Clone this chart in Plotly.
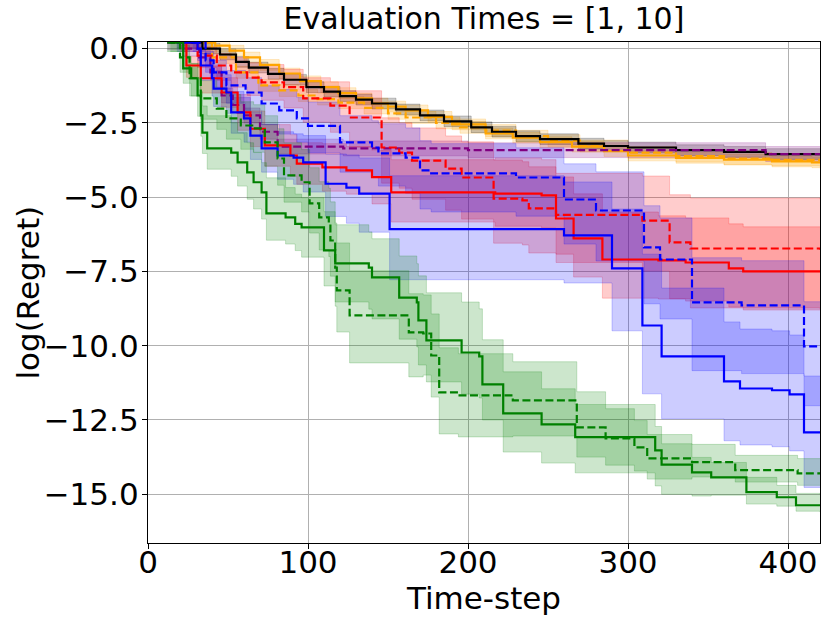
import plotly.graph_objects as go

# ---------------- data (step breakpoints) ----------------
K_X = [18, 34, 45, 55, 63, 75, 85, 99, 110, 120, 130, 140, 155, 170, 185, 202, 215, 230, 245, 269, 285, 300, 330, 360, 386, 420]
K_Y = [0.2, 0.0, -0.2, -0.45, -0.64, -0.85, -1.05, -1.3, -1.45, -1.6, -1.72, -1.85, -2.05, -2.25, -2.45, -2.65, -2.8, -2.95, -3.05, -3.2, -3.28, -3.33, -3.42, -3.48, -3.55, -3.55]
K_BAND = 0.18

OS_X = [30, 42, 51, 60, 70, 82, 95, 108, 119, 130, 140, 150, 161, 175, 190, 211, 228, 245, 265, 285, 300, 330, 360, 390, 415, 420]
OS_Y = [0.2, 0.1, -0.07, -0.3, -0.55, -0.84, -1.1, -1.3, -1.5, -1.68, -1.85, -1.95, -2.08, -2.3, -2.55, -2.86, -3.0, -3.15, -3.3, -3.45, -3.6, -3.68, -3.74, -3.8, -3.83, -3.85]
OS_BAND = 0.18

OD_X = [25, 40, 55, 69, 82, 94, 106, 119, 135, 150, 161, 180, 195, 211, 230, 250, 270, 300, 330, 360, 390, 420]
OD_Y = [0.2, -0.3, -0.8, -1.24, -1.41, -1.58, -1.7, -1.82, -2.0, -2.18, -2.32, -2.5, -2.65, -2.76, -2.95, -3.1, -3.28, -3.5, -3.62, -3.7, -3.75, -3.78]
OD_BAND = 0.2

PD_X = [12, 22, 32, 39, 46, 53, 60, 70, 81, 122, 200, 386, 420]
PD_Y = [0.2, 0.0, -0.3, -0.8, -1.58, -1.9, -2.25, -2.8, -3.3, -3.36, -3.42, -3.55, -3.55]
PD_BAND = 0.25

RS_X = [20, 24, 33, 46, 56, 64, 73, 89, 93, 109, 124, 140, 152, 217, 246, 255, 266, 284, 319, 336, 363, 372, 420]
RS_Y = [0.2, -0.57, -1.0, -1.48, -2.15, -2.7, -3.26, -3.6, -3.87, -4.0, -4.1, -4.33, -4.84, -4.88, -4.94, -5.72, -6.39, -7.1, -7.13, -7.2, -7.4, -7.5, -7.5]
RS_UP = [0.1, 0.3, 0.4, 0.5, 0.6, 0.6, 0.7, 0.7, 0.7, 0.8, 0.8, 0.9, 1.1, 1.2, 1.2, 1.4, 1.5, 1.6, 1.5, 1.5, 1.5, 1.5, 1.5]
RS_DN = [0.3, 0.4, 0.5, 0.5, 0.6, 0.6, 0.7, 0.7, 0.7, 0.8, 0.8, 0.9, 1.0, 1.1, 1.1, 1.2, 1.3, 1.3, 1.3, 1.3, 1.3, 1.3, 1.3]

RD_X = [22, 31, 43, 52, 62, 71, 85, 97, 114, 126, 146, 157, 165, 186, 196, 216, 234, 238, 255, 309, 326, 339, 420]
RD_Y = [0.2, -0.24, -0.57, -0.8, -0.98, -1.14, -1.3, -1.68, -1.92, -2.32, -3.33, -3.5, -3.77, -4.04, -4.34, -5.05, -5.11, -5.38, -5.6, -5.79, -6.52, -6.73, -6.77]
RD_UP = [0.1, 0.3, 0.4, 0.5, 0.5, 0.6, 0.6, 0.7, 0.8, 0.9, 1.0, 1.0, 1.1, 1.1, 1.2, 1.3, 1.3, 1.4, 1.4, 1.5, 1.6, 1.7, 1.7]
RD_DN = [0.3, 0.4, 0.5, 0.5, 0.6, 0.6, 0.7, 0.8, 0.9, 1.0, 1.2, 1.2, 1.3, 1.4, 1.4, 1.5, 1.5, 1.5, 1.6, 1.7, 1.9, 2.0, 2.0]

BS_X = [18, 31, 33, 40, 41, 49, 52, 60, 64, 71, 81, 91, 97, 111, 124, 132, 151, 260, 290, 309, 321, 360, 370, 390, 401, 410, 420]
BS_Y = [0.2, 0.0, -0.57, -1.0, -1.35, -1.48, -2.15, -2.35, -2.93, -3.36, -3.6, -3.67, -3.83, -4.55, -4.68, -4.88, -6.08, -6.29, -7.4, -9.32, -10.36, -11.2, -11.44, -11.5, -11.64, -12.92, -12.92]
BS_UP = [0.1, 0.3, 0.4, 0.5, 0.6, 0.6, 0.7, 0.7, 0.8, 0.8, 0.8, 0.8, 0.9, 1.0, 1.1, 1.2, 1.8, 1.8, 2.0, 2.4, 2.3, 2.0, 2.0, 2.0, 2.0, 1.9, 1.9]
BS_DN = [0.3, 0.4, 0.5, 0.6, 0.6, 0.7, 0.7, 0.8, 0.8, 0.8, 0.8, 0.9, 1.0, 1.1, 1.2, 1.3, 1.7, 1.6, 2.1, 2.3, 2.1, 2.0, 1.9, 1.9, 1.9, 1.85, 1.85]

BD_X = [28, 36, 41, 49, 61, 71, 82, 93, 100, 120, 140, 144, 161, 170, 177, 230, 260, 280, 310, 320, 340, 371, 410, 420]
BD_Y = [0.2, -0.4, -0.8, -1.24, -1.48, -1.85, -2.08, -2.35, -2.6, -3.16, -3.33, -3.53, -3.67, -4.1, -4.2, -4.34, -5.08, -5.45, -6.69, -7.1, -8.54, -8.64, -10.02, -10.02]
BD_UP = [0.1, 0.3, 0.4, 0.5, 0.5, 0.6, 0.7, 0.7, 0.8, 0.9, 0.9, 1.0, 1.0, 1.0, 1.0, 1.0, 1.2, 1.3, 1.4, 1.4, 1.5, 1.5, 1.5, 1.5]
BD_DN = [0.3, 0.4, 0.5, 0.6, 0.6, 0.7, 0.8, 0.8, 0.9, 1.0, 1.0, 1.1, 1.2, 1.3, 1.3, 1.3, 1.5, 1.7, 1.9, 2.0, 2.3, 2.3, 2.0, 2.0]

GS_X = [14, 22, 27, 31, 33, 34, 37, 52, 56, 62, 66, 71, 74, 86, 92, 96, 110, 117, 138, 140, 157, 168, 169, 174, 196, 207, 209, 222, 246, 267, 317, 321, 340, 352, 374, 393, 405, 420]
GS_Y = [0.2, -0.67, -1.0, -1.58, -2.25, -2.83, -3.36, -3.5, -3.83, -4.17, -4.5, -4.84, -5.55, -5.68, -5.9, -6.02, -6.79, -7.23, -7.37, -7.7, -8.38, -8.54, -9.15, -9.82, -10.23, -10.36, -11.3, -12.28, -12.65, -13.08, -13.52, -14.0, -14.26, -14.43, -14.93, -15.1, -15.37, -15.4]
GS_UP = [0.0, 0.4, 0.5, 0.6, 0.8, 0.9, 1.1, 1.0, 1.0, 1.0, 1.0, 1.0, 1.2, 1.0, 1.0, 1.0, 1.3, 1.3, 1.2, 1.3, 1.4, 1.3, 1.5, 1.6, 1.7, 1.6, 1.5, 1.4, 1.2, 1.1, 0.8, 0.7, 0.5, 0.5, 0.5, 0.4, 0.4, 0.4]
GS_DN = [0.3, 0.5, 0.6, 0.7, 0.7, 0.7, 0.7, 0.8, 0.8, 0.9, 0.9, 0.9, 0.9, 0.9, 0.9, 1.0, 1.2, 1.3, 1.4, 1.4, 1.4, 1.5, 1.5, 1.4, 1.4, 1.4, 1.2, 1.3, 1.3, 1.2, 1.2, 1.0, 0.8, 0.6, 0.4, 0.3, 0.2, 0.2]

GD_X = [12, 20, 26, 33, 43, 49, 58, 66, 73, 81, 85, 96, 101, 107, 113, 114, 117, 118, 126, 163, 172, 177, 182, 194, 228, 268, 286, 304, 312, 340, 367, 406, 420]
GD_Y = [0.2, -0.3, -1.0, -1.68, -2.02, -2.35, -2.59, -2.69, -3.16, -3.7, -4.27, -4.5, -5.21, -5.68, -5.9, -6.46, -7.37, -8.14, -8.98, -9.55, -9.59, -10.33, -11.57, -11.67, -11.84, -12.75, -13.12, -13.42, -13.79, -13.92, -14.19, -14.3, -14.3]
GD_UP = [0.1, 0.4, 0.5, 0.6, 0.7, 0.8, 0.8, 0.8, 0.9, 1.0, 1.1, 1.1, 1.2, 1.2, 1.2, 1.3, 1.5, 1.6, 1.5, 1.3, 1.3, 1.4, 1.5, 1.4, 1.3, 1.2, 1.0, 0.9, 0.8, 0.6, 0.5, 0.5, 0.5]
GD_DN = [0.3, 0.5, 0.6, 0.7, 0.7, 0.7, 0.8, 0.8, 0.8, 0.9, 0.9, 1.0, 1.0, 1.1, 1.1, 1.2, 1.3, 1.4, 1.6, 1.5, 1.4, 1.4, 1.4, 1.4, 1.2, 1.0, 0.9, 0.8, 0.7, 0.5, 0.4, 0.4, 0.4]

X_TICKS = [0, 100, 200, 300, 400]
Y_TICKS = [0.0, -2.5, -5.0, -7.5, -10.0, -12.5, -15.0]
Y_TICK_TEXT = ["0.0", "\u22122.5", "\u22125.0", "\u22127.5", "\u221210.0", "\u221212.5", "\u221215.0"]

RGB = {"black": (0, 0, 0), "orange": (255, 165, 0), "purple": (128, 0, 128),
       "red": (255, 0, 0), "blue": (0, 0, 255), "green": (0, 128, 0)}


def rgba(name, a):
    r, g, b = RGB[name]
    return f"rgba({r},{g},{b},{a})"


SERIES = [
    (OS_X, OS_Y, OS_BAND, OS_BAND, "orange", False),
    (OD_X, OD_Y, OD_BAND, OD_BAND, "orange", True),
    (K_X, K_Y, K_BAND, K_BAND, "black", False),
    (PD_X, PD_Y, PD_BAND, PD_BAND, "purple", True),
    (RS_X, RS_Y, RS_UP, RS_DN, "red", False),
    (RD_X, RD_Y, RD_UP, RD_DN, "red", True),
    (BS_X, BS_Y, BS_UP, BS_DN, "blue", False),
    (BD_X, BD_Y, BD_UP, BD_DN, "blue", True),
    (GS_X, GS_Y, GS_UP, GS_DN, "green", False),
    (GD_X, GD_Y, GD_UP, GD_DN, "green", True),
]

fig = go.Figure()

# shaded bands first
for x, y, up, dn, color, dashed in SERIES:
    if not isinstance(up, list):
        up = [up] * len(y)
    if not isinstance(dn, list):
        dn = [dn] * len(y)
    upper = [a + b for a, b in zip(y, up)]
    lower = [a - b for a, b in zip(y, dn)]
    edge = dict(width=0.8, color=rgba(color, 0.25), shape="hv")
    fig.add_trace(go.Scatter(x=x, y=upper, mode="lines", line=edge,
                             showlegend=False, hoverinfo="skip"))
    fig.add_trace(go.Scatter(x=x, y=lower, mode="lines", line=edge, fill="tonexty",
                             fillcolor=rgba(color, 0.2), showlegend=False, hoverinfo="skip"))

# mean lines on top
for x, y, up, dn, color, dashed in SERIES:
    fig.add_trace(go.Scatter(x=x, y=y, mode="lines",
                             line=dict(width=2.2, color=rgba(color, 1), shape="hv",
                                       dash="8px,3.5px" if dashed else "solid"),
                             showlegend=False))

FONT = "DejaVu Sans"
W, H = 831, 629
L, R, T, B = 148, 11, 42, 86
axis_common = dict(showgrid=True, gridcolor="#b0b0b0", gridwidth=1,
                   showline=True, linecolor="black", linewidth=1.3, mirror=True,
                   ticks="outside", ticklen=5, tickwidth=1.2, tickcolor="black",
                   zeroline=False, automargin=False,
                   tickfont=dict(family=FONT, size=31, color="black"))

fig.update_layout(
    width=W, height=H,
    margin=dict(l=L, r=R, t=T, b=B),
    paper_bgcolor="white", plot_bgcolor="white",
    font=dict(family=FONT, color="black"),
    title=dict(text="Evaluation Times = [1, 10]", x=0.5, xref="paper",
               y=1 - 18 / H, yref="container", yanchor="middle", xanchor="center",
               font=dict(family=FONT, size=30, color="black")),
    xaxis=dict(range=[0, 420], tickvals=X_TICKS, ticktext=[str(v) for v in X_TICKS],
               ticklabelstandoff=-13,
               title=dict(text="Time-step", font=dict(family=FONT, size=31), standoff=4),
               **axis_common),
    yaxis=dict(range=[-16.64, 0.22], tickvals=Y_TICKS, ticktext=Y_TICK_TEXT,
               ticklabelstandoff=-3, **axis_common),
    annotations=[dict(text="log(Regret)", textangle=-90, showarrow=False,
                      xref="paper", yref="paper",
                      x=(27 - L) / (W - L - R), y=0.5,
                      xanchor="center", yanchor="middle",
                      font=dict(family=FONT, size=31, color="black"))],
)

fig.write_html("out.html", config={"displayModeBar": False},
               post_script="document.body.style.margin='0';document.body.style.overflow='hidden';")
